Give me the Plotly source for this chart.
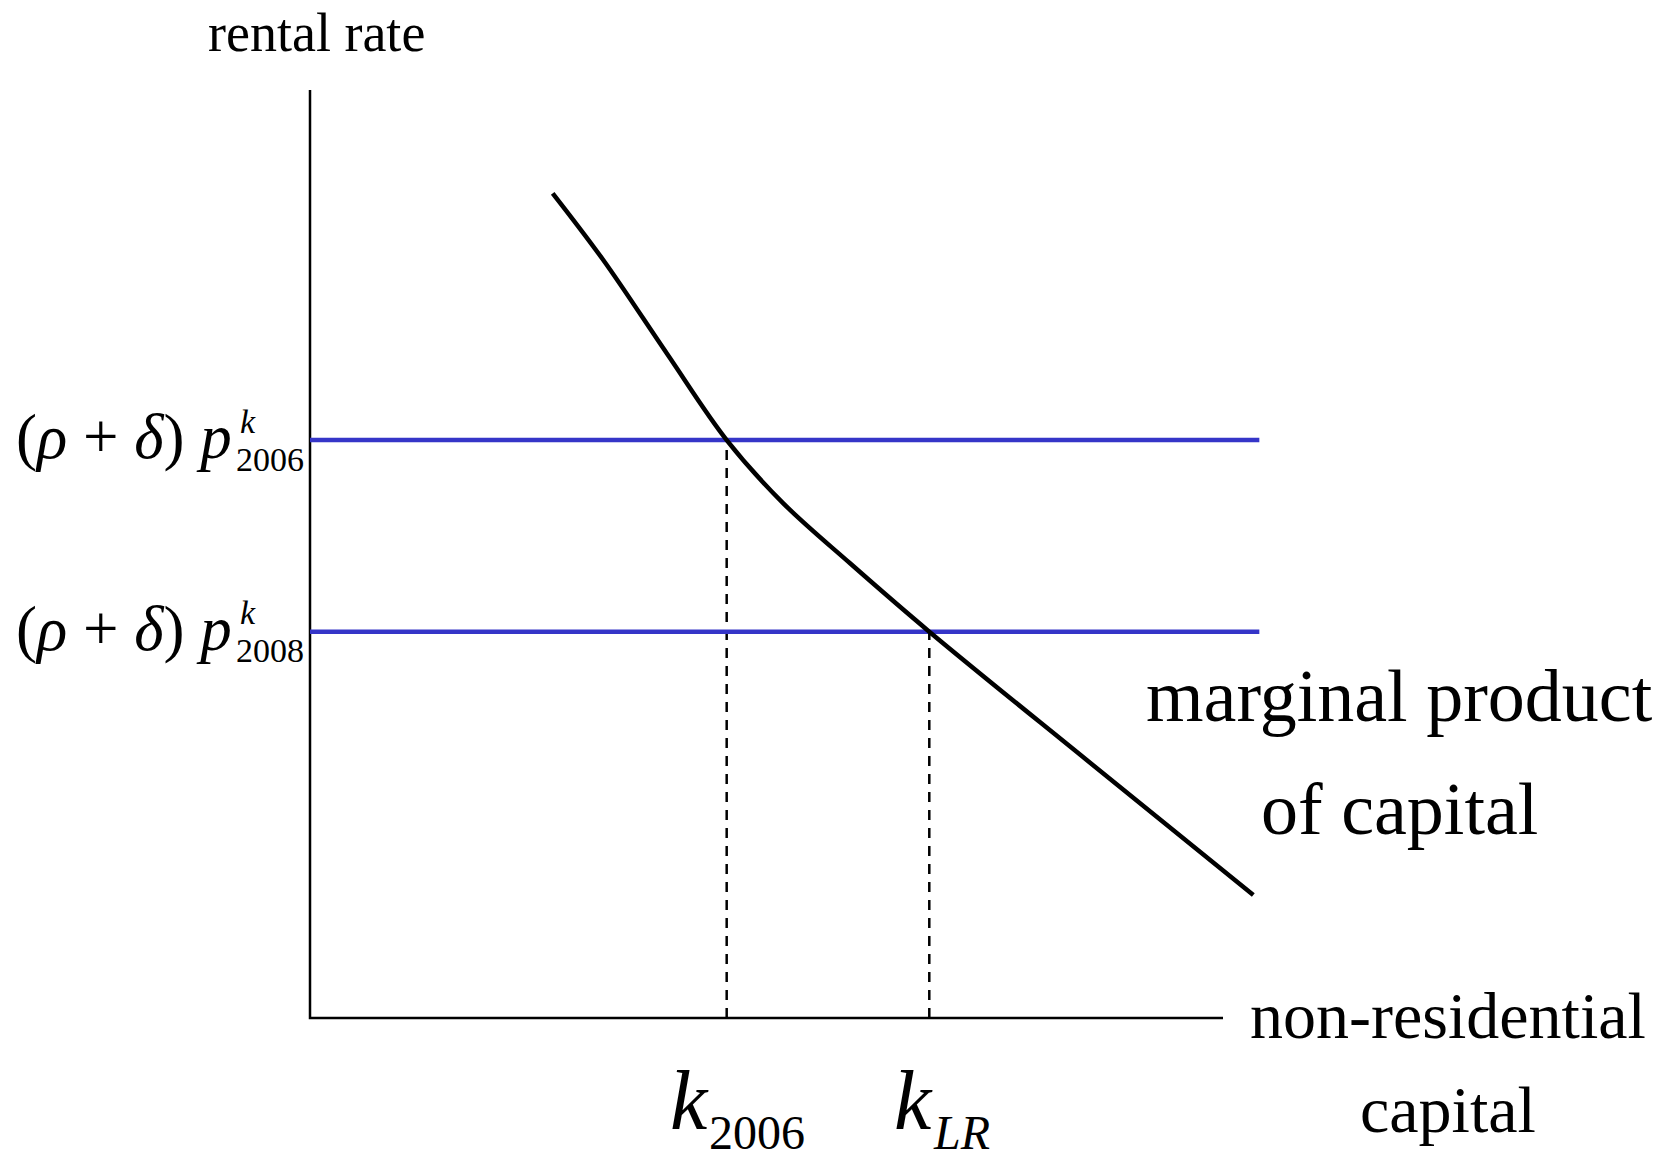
import plotly.graph_objects as go

W, H = 1660, 1152

# ---- data (axis units: origin 0, axis ends at 10) ----
mpk_x = [2.658, 3.212, 3.907, 4.564, 5.184, 5.915, 6.783, 8.507, 10.332]
mpk_y = [8.887, 8.168, 7.163, 6.228, 5.546, 4.900, 4.163, 2.780, 1.325]

cost_levels = [6.228, 4.163]        # (rho+delta) p^k 2006, 2008
cost_years = ["2006", "2008"]
cost_x_end = 10.398

k_values = [4.564, 6.783]           # k_2006, k_LR
k_subs = ["2006", "LR"]

axis_x_max = 10.0
axis_y_max = 10.0

# pixel <-> axis mapping used to set the ranges
X0PX, X1PX = 310.0, 1223.0
Y0PX, Y1PX = 1018.0, 90.0
sx = (X1PX - X0PX) / axis_x_max
sy = (Y0PX - Y1PX) / axis_y_max
xr = [(0 - X0PX) / sx, (W - X0PX) / sx]
yr = [(Y0PX - H) / sy, (Y0PX - 0) / sy]

FONT = "Liberation Serif"
BLACK = "#000000"
BLUE = "#3535c8"

fig = go.Figure()

# axes
fig.add_trace(go.Scatter(x=[0, 0, axis_x_max], y=[axis_y_max, 0, 0], mode="lines",
                         line=dict(color=BLACK, width=2.5), hoverinfo="skip"))
# dashed drop lines
for kv, lv in zip(k_values, cost_levels):
    fig.add_trace(go.Scatter(x=[kv, kv], y=[0, lv], mode="lines",
                             line=dict(color=BLACK, width=2.5, dash="10px,8px"), hoverinfo="skip"))
# cost lines
for lv in cost_levels:
    fig.add_trace(go.Scatter(x=[0, cost_x_end], y=[lv, lv], mode="lines",
                             line=dict(color=BLUE, width=4.5), hoverinfo="skip"))
# MPK curve
fig.add_trace(go.Scatter(x=mpk_x, y=mpk_y, mode="lines",
                         line=dict(color=BLACK, width=4.5, shape="spline", smoothing=1.0),
                         hoverinfo="skip"))

def px(xp):
    return xp / W

def py(yp):
    return 1 - yp / H

ann = []

def text(t, xp, yp_base, size, xanchor="center"):
    ann.append(dict(text=t, x=px(xp), y=py(yp_base - 0.32 * size), xref="paper", yref="paper",
                    xanchor=xanchor, yanchor="middle", showarrow=False,
                    font=dict(family=FONT, size=size, color=BLACK)))

text("rental rate", 316, 50, 54)
text("marginal product", 1399, 720, 74)
text("of capital", 1399, 833, 74)
text("non-residential", 1448, 1037, 66)
text("capital", 1448, 1131, 66)

# y-axis labels
for lv, yr_ in zip(cost_levels, cost_years):
    ypx = Y0PX - lv * sy
    text("(<i>ρ</i> + <i>δ</i>) <i>p</i>", 234, ypx + 17, 63, xanchor="right")
    text("<i>k</i>", 238, ypx - 8, 34, xanchor="left")
    text(yr_, 234, ypx + 30, 34, xanchor="left")

# x-axis labels (k offset, subscript offset relative to the drop line)
k_label_offsets = {"2006": (-59, -20), "LR": (-37, 2)}
for kv, sub in zip(k_values, k_subs):
    xpx = X0PX + kv * sx
    ko, so = k_label_offsets[sub]
    text("<i>k</i>", xpx + ko, 1127, 84, xanchor="left")
    sub_txt = "<i>LR</i>" if sub == "LR" else sub
    text(sub_txt, xpx + so, 1148, 48, xanchor="left")

fig.update_layout(
    width=W, height=H, margin=dict(l=0, r=0, t=0, b=0),
    paper_bgcolor="white", plot_bgcolor="white", showlegend=False,
    xaxis=dict(range=xr, visible=False, fixedrange=True),
    yaxis=dict(range=yr, visible=False, fixedrange=True),
    annotations=ann,
)

fig.write_html("out.html", config={"displayModeBar": False},
               post_script="document.body.style.margin='0';document.body.style.overflow='hidden';")
